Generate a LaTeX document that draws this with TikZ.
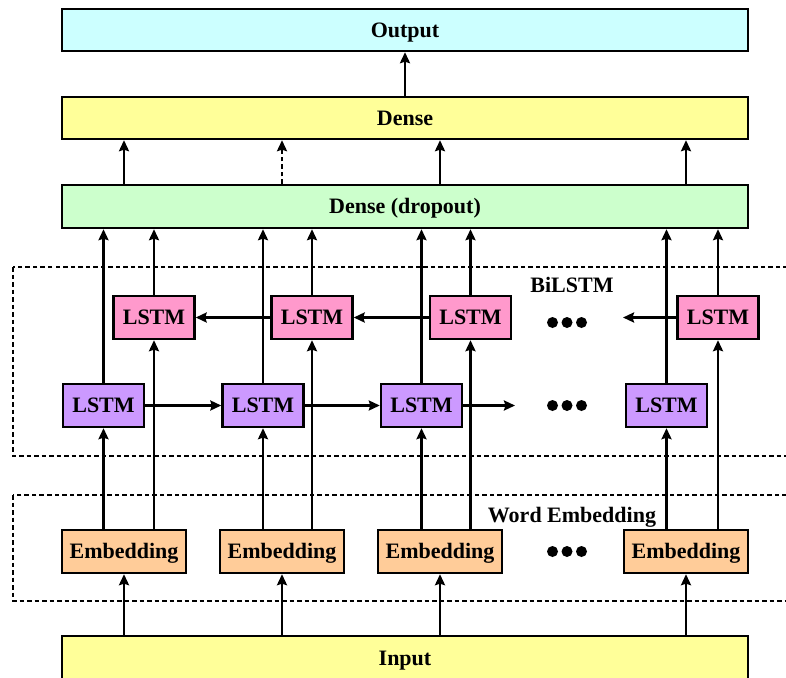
\documentclass[tikz,border=0pt]{standalone}
\usepackage{fontspec}
\setmainfont{Liberation Serif}
\usetikzlibrary{arrows.meta}
\definecolor{cOut}{HTML}{CCFFFF}
\definecolor{cYel}{HTML}{FFFF99}
\definecolor{cGrn}{HTML}{CCFFCC}
\definecolor{cPink}{HTML}{FF99CC}
\definecolor{cPurp}{HTML}{CC99FF}
\definecolor{cEmb}{HTML}{FFCC99}
\begin{document}
\begin{tikzpicture}[x=1pt,y=-1pt,
  txt/.style={font=\fontsize{22}{24}\selectfont\bfseries, text height=14.5pt, text depth=0pt},
  box/.style={txt, draw=black, line width=2.4pt, inner sep=0pt},
  wide/.style={box, minimum width=686pt, minimum height=42pt},
  lstmb/.style={box, minimum width=81pt, minimum height=43pt},
  embb/.style={box, minimum width=124pt, minimum height=43pt, fill=cEmb},
  arr/.style={line width=2.4pt, -{Stealth[length=11pt,width=10pt,inset=1.5pt]}},
  frame/.style={line width=2.4pt, dash pattern=on 4.5pt off 3pt},
  lbl/.style={txt, inner sep=0pt},
  dotn/.style={circle, fill=black, inner sep=0pt, minimum size=11pt}]
\useasboundingbox (0,0) rectangle (786,677);
\clip (0,0) rectangle (786,677);
% frames
\draw[frame] (13,267) rectangle (800,456);
\draw[frame] (13,495) rectangle (800,601);
\node[lbl] (lblbi) at (572,285) {BiLSTM};
\node[lbl] (lblwe) at (572,515) {Word Embedding};
% wide boxes
\node[wide, fill=cOut] (out) at (405,30) {Output};
\node[wide, fill=cYel] (dense) at (405,118) {Dense};
\node[wide, fill=cGrn, minimum height=43pt] (drop) at (405,206.5) {Dense (dropout)};
\node[wide, fill=cYel, minimum height=44pt] (inp) at (405,658) {Input};
% LSTM backward
\node[lstmb, fill=cPink] (p1) at (154,317.5) {LSTM};
\node[lstmb, fill=cPink] (p2) at (312,317.5) {LSTM};
\node[lstmb, fill=cPink] (p3) at (470.5,317.5) {LSTM};
\node[lstmb, fill=cPink] (p4) at (718,317.5) {LSTM};
% LSTM forward
\node[lstmb, fill=cPurp] (f1) at (103.5,405.5) {LSTM};
\node[lstmb, fill=cPurp] (f2) at (263,405.5) {LSTM};
\node[lstmb, fill=cPurp] (f3) at (421.5,405.5) {LSTM};
\node[lstmb, fill=cPurp] (f4) at (666.5,405.5) {LSTM};
% Embeddings
\node[embb] (e1) at (124,551.5) {Embedding};
\node[embb] (e2) at (282,551.5) {Embedding};
\node[embb] (e3) at (440,551.5) {Embedding};
\node[embb] (e4) at (686,551.5) {Embedding};
% dots
\foreach \r/\y in {a/322.5, b/405.5, c/551.5}{
  \node[dotn] (d1\r) at (552.5,\y) {};
  \node[dotn] (d2\r) at (567,\y) {};
  \node[dotn] (d3\r) at (581.5,\y) {};
}
\coordinate (fend) at (515,405.5);
\coordinate (bend) at (623,317.5);
% input -> embeddings
\foreach \e in {e1,e2,e3,e4}{
  \draw[arr] (inp.north -| \e) -- (\e.south);
}
% embeddings -> LSTMs -> dropout
\foreach \e/\f/\p in {e1/f1/p1, e2/f2/p2, e3/f3/p3, e4/f4/p4}{
  \draw[arr] (\f |- \e.north) -- (\f.south);
  \draw[arr] (\p |- \e.north) -- (\p.south);
  \draw[arr] (\f.north) -- (\f |- drop.south);
  \draw[arr] (\p.north) -- (\p |- drop.south);
}
% recurrent arrows
\draw[arr] (f1.east) -- (f2.west);
\draw[arr] (f2.east) -- (f3.west);
\draw[arr] (f3.east) -- (fend);
\draw[arr] (p2.west) -- (p1.east);
\draw[arr] (p3.west) -- (p2.east);
\draw[arr] (p4.west) -- (bend);
% dropout -> dense
\draw[arr] (drop.north -| e1) -- (dense.south -| e1);
\draw[arr, dash pattern=on 4.5pt off 3pt] (drop.north -| e2) -- (dense.south -| e2);
\draw[arr] (drop.north -| e3) -- (dense.south -| e3);
\draw[arr] (drop.north -| e4) -- (dense.south -| e4);
% dense -> output
\draw[arr] (dense.north) -- (out.south);
\end{tikzpicture}
\end{document}
